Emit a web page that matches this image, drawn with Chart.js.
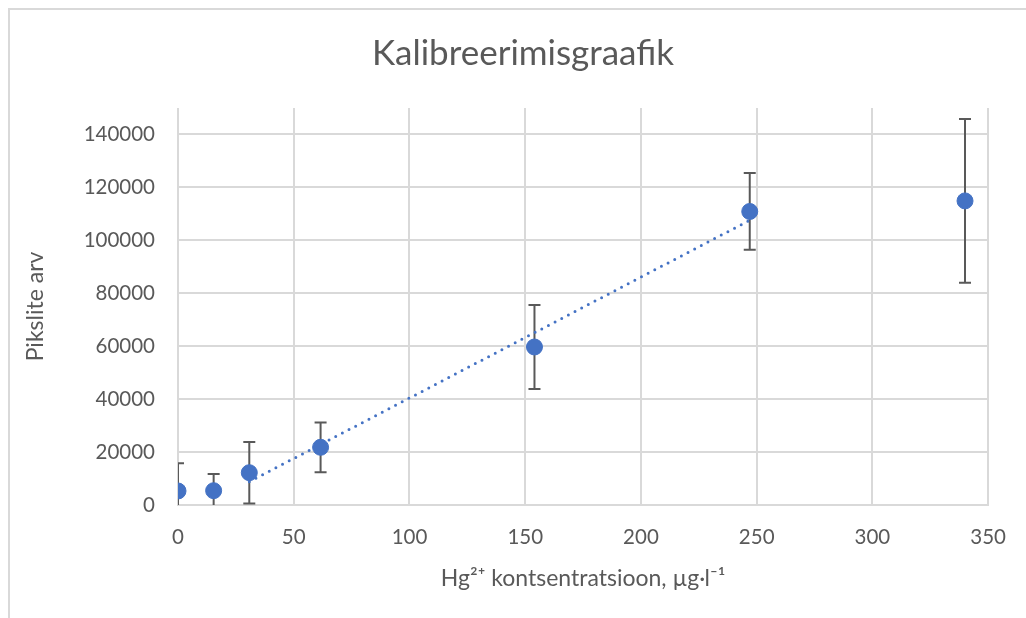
<!DOCTYPE html>
<html>
<head>
<meta charset="utf-8">
<script src="https://cdn.jsdelivr.net/npm/chart.js@4/dist/chart.umd.min.js"></script>
<style>
  html, body { margin: 0; padding: 0; background: #fff; }
  #wrap { width: 1026px; height: 618px; position: relative; }
</style>
</head>
<body>
<div id="wrap"><canvas id="chart" width="1026" height="618"></canvas></div>
<script>
// concentration (µg/l) and peak value
const concentrations = [0, 15.4, 30.8, 61.6, 154, 247, 340];
const peakValues = [5300, 5400, 12200, 21800, 59700, 110900, 114900];
const peakErrors = [10500, 6300, 11600, 9400, 15900, 14500, 30900];

// linear trendline endpoints as seen on the picture
const trendX = [30.8, 247];
const trendY = [8800, 107600];

const yTicks = [0, 20000, 40000, 60000, 80000, 100000, 120000, 140000];
const chartTitle = 'Kalibreerimisgraafik';

const fontName = 'Lato, "Open Sans", sans-serif';
const textGray = '#595959';
const gridGray = '#d9d9d9';
const markerBlue = '#4472c4';

// outer frame and title of the chart object
const framePlugin = {
  id: 'frame',
  beforeDraw(chart) {
    const ctx = chart.ctx;
    ctx.save();
    ctx.strokeStyle = gridGray;
    ctx.lineWidth = 2;
    ctx.beginPath();
    ctx.moveTo(9, 618);
    ctx.lineTo(9, 9);
    ctx.lineTo(1026, 9);
    ctx.stroke();
    ctx.fillStyle = textGray;
    ctx.font = '35px ' + fontName;
    ctx.textAlign = 'center';
    ctx.textBaseline = 'middle';
    ctx.fillText(chartTitle, 523, 54);
    ctx.restore();
  }
};

// vertical error bars, drawn under the markers
const errorBarPlugin = {
  id: 'errorBars',
  beforeDatasetsDraw(chart) {
    const ctx = chart.ctx;
    const xs = chart.scales.x;
    const ys = chart.scales.y;
    const area = chart.chartArea;
    ctx.save();
    ctx.beginPath();
    ctx.rect(area.left, area.top, area.right - area.left, area.bottom - area.top);
    ctx.clip();
    ctx.strokeStyle = '#595959';
    ctx.lineWidth = 2;
    concentrations.forEach((c, i) => {
      const px = xs.getPixelForValue(c);
      const top = ys.getPixelForValue(peakValues[i] + peakErrors[i]);
      const bottom = ys.getPixelForValue(peakValues[i] - peakErrors[i]);
      ctx.beginPath();
      ctx.moveTo(px, top);
      ctx.lineTo(px, bottom);
      ctx.moveTo(px - 6, top);
      ctx.lineTo(px + 6, top);
      ctx.moveTo(px - 6, bottom);
      ctx.lineTo(px + 6, bottom);
      ctx.stroke();
    });
    ctx.restore();
  }
};

const ctx = document.getElementById('chart').getContext('2d');
new Chart(ctx, {
  type: 'scatter',
  data: {
    datasets: [
      {
        label: 'Pikslite arv',
        data: concentrations.map((c, i) => ({ x: c, y: peakValues[i] })),
        backgroundColor: markerBlue,
        borderColor: markerBlue,
        pointRadius: 8,
        pointHoverRadius: 8,
        order: 0
      },
      {
        label: 'Trend',
        type: 'line',
        data: trendX.map((x, i) => ({ x: x, y: trendY[i] })),
        borderColor: markerBlue,
        borderWidth: 3,
        borderDash: [0, 7.5],
        borderCapStyle: 'round',
        pointRadius: 0,
        fill: false,
        order: 1
      }
    ]
  },
  options: {
    responsive: false,
    animation: false,
    devicePixelRatio: 1,
    layout: { padding: { left: 0, right: 36, top: 108, bottom: 0 } },
    plugins: {
      legend: { display: false },
      tooltip: { enabled: false },
      title: { display: false }
    },
    scales: {
      x: {
        type: 'linear',
        min: 0,
        max: 350,
        ticks: {
          stepSize: 50,
          color: textGray,
          font: { family: fontName, size: 20.5 },
          padding: 20
        },
        grid: { color: gridGray, lineWidth: 2, drawTicks: false },
        border: { color: gridGray, width: 2 },
        title: {
          display: true,
          text: 'Hg²⁺ kontsentratsioon, µg·l⁻¹',
          color: textGray,
          font: { family: fontName, size: 23 },
          padding: { top: 0, bottom: 26 }
        },
        afterFit(scale) { scale.height = 113; }
      },
      y: {
        min: 0,
        max: 150000,
        afterBuildTicks(scale) {
          scale.ticks = yTicks.map(v => ({ value: v }));
        },
        ticks: {
          color: textGray,
          font: { family: fontName, size: 20.5 },
          padding: 23,
          callback: v => String(v)
        },
        grid: { color: gridGray, lineWidth: 2, drawTicks: false },
        border: { display: false },
        title: {
          display: true,
          text: 'Pikslite arv',
          color: textGray,
          font: { family: fontName, size: 23 },
          padding: { top: 22, bottom: 0 }
        },
        afterFit(scale) { scale.width = 178; }
      }
    }
  },
  plugins: [framePlugin, errorBarPlugin]
});
</script>
</body>
</html>
